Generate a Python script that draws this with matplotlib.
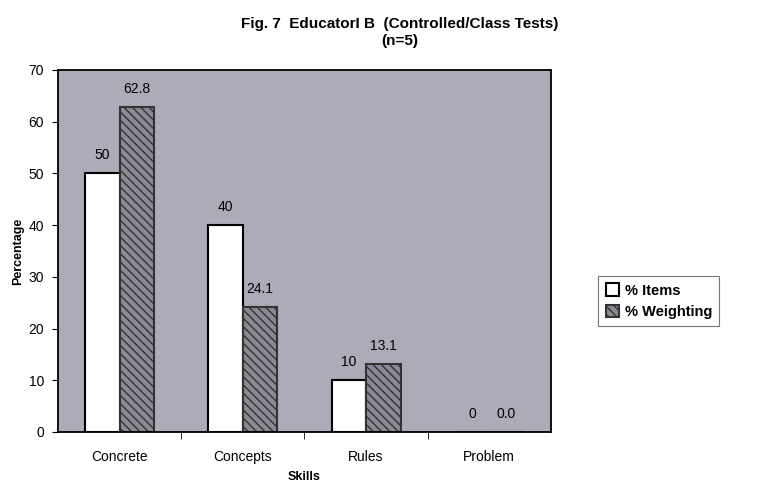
import numpy as np
import matplotlib
matplotlib.use("Agg")
import matplotlib.pyplot as plt

plt.rcParams['font.family'] = ['Liberation Sans', 'DejaVu Sans']
plt.rcParams['hatch.linewidth'] = 1.0

skills = ['Concrete', 'Concepts', 'Rules', 'Problem']
items = [50, 40, 10, 0]
weighting = [62.8, 24.1, 13.1, 0.0]
item_labels = ['50', '40', '10', '0']
weight_labels = ['62.8', '24.1', '13.1', '0.0']

fig = plt.figure(figsize=(7.69, 4.88), dpi=100)
ax = fig.add_axes([0.0754, 0.1148, 0.641, 0.7418])
ax.set_facecolor('#acacb8')

x = np.arange(len(skills))
w = 0.28
b1 = ax.bar(x - w/2, items, w, color='white', edgecolor='black', linewidth=1.5,
            label='% Items')
b2 = ax.bar(x + w/2, weighting, w, color='#8a8a94', edgecolor='#333333', linewidth=1.5,
            hatch='\\\\\\\\', label='% Weighting')

for xi, v, t in zip(x - w/2, items, item_labels):
    ax.text(xi, v + 2.2, t, ha='center', va='bottom', fontsize=10)
for xi, v, t in zip(x + w/2, weighting, weight_labels):
    ax.text(xi, v + 2.2, t, ha='center', va='bottom', fontsize=10)

ax.set_xlim(-0.5, 3.5)
ax.set_ylim(0, 70)
ax.set_yticks(range(0, 71, 10))
ax.set_xticks(x)
ax.set_xticklabels(skills, fontsize=10)
ax.set_xticks([0.5, 1.5, 2.5], minor=True)
ax.tick_params(axis='x', which='major', length=0, pad=13)
ax.tick_params(axis='x', which='minor', length=5, direction='out')
ax.tick_params(axis='y', length=4, direction='out', labelsize=10, pad=6)
for s in ax.spines.values():
    s.set_linewidth(1.3)

ax.set_xlabel('Skills', fontsize=9, fontweight='bold', labelpad=5)
ax.set_ylabel('Percentage', fontsize=9, fontweight='bold', labelpad=3)
fig.text(0.52, 0.933, 'Fig. 7  EducatorI B  (Controlled/Class Tests)\n(n=5)',
         ha='center', va='center', fontsize=11, fontweight='bold',
         linespacing=1.3)

leg = fig.legend(loc='upper left', bbox_to_anchor=(0.778, 0.434),
                 frameon=True, fancybox=False,
                 prop={'weight': 'bold', 'size': 10.5},
                 handlelength=0.9, handleheight=0.9, borderpad=0.5,
                 labelspacing=0.5, handletextpad=0.4, borderaxespad=0)
leg.get_frame().set_edgecolor('#555555')
leg.get_frame().set_linewidth(0.8)

fig.savefig('out.png', dpi=100)
